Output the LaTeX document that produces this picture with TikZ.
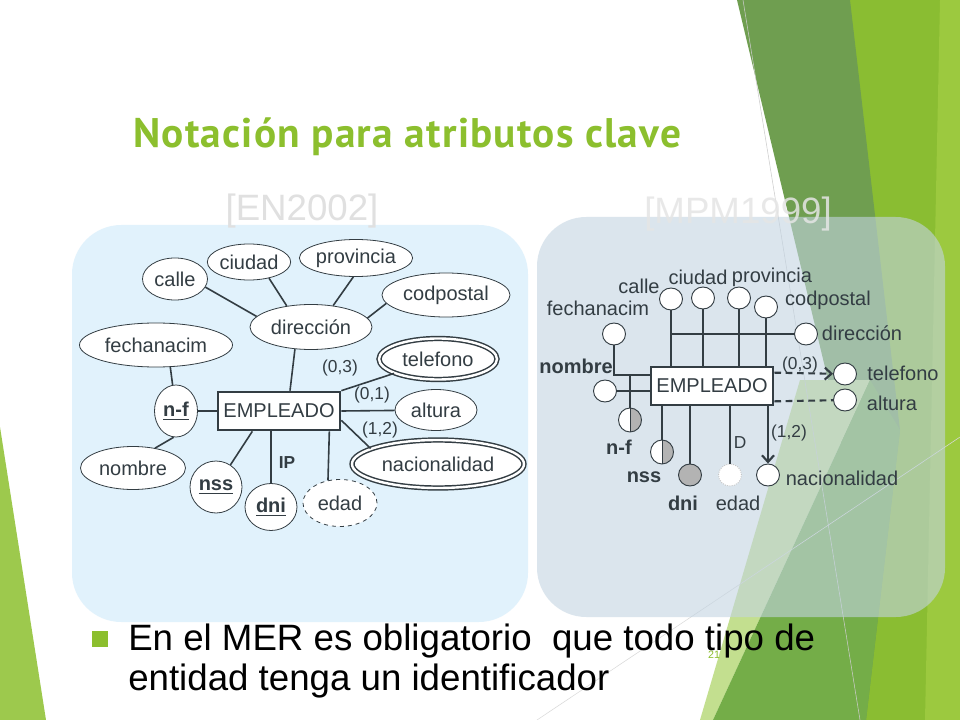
\documentclass[tikz,border=0pt]{standalone}
\usepackage{fontspec}
\setmainfont{Liberation Sans}
\newfontfamily\titlefont[LetterSpace=3]{PT Sans}
\usetikzlibrary{shapes,arrows.meta}

\definecolor{linec}{HTML}{333D43}
\definecolor{facet}{HTML}{8CBF2E}
\definecolor{leftpanel}{HTML}{E1F2FC}
\definecolor{rightpanel}{HTML}{C3D4E2}
\definecolor{keyfill}{HTML}{B3B3B3}
\definecolor{darkband}{HTML}{6F9E50}
\definecolor{brightband}{HTML}{8ABD32}
\definecolor{stripband}{HTML}{9CC93F}
\definecolor{midband}{HTML}{74AD48}
\definecolor{lightband}{HTML}{C3DF8F}

\begin{document}
\begin{tikzpicture}[x=0.75pt,y=-0.75pt,
    attr/.style={ellipse,draw=linec,fill=white,line width=0.6pt,inner sep=0pt,
                 font=\fontsize{15}{18}\selectfont,text=linec},
    sz/.style 2 args={minimum width={#1*0.75pt},minimum height={#2*0.75pt}},
    dbl/.style={double=white,double distance=1.8pt,line width=1.1pt},
    ent/.style={rectangle,draw=linec,fill=white,line width=2pt,inner sep=0pt,
                minimum width=91.5pt,minimum height=28.5pt,
                font=\fontsize{15}{18}\selectfont,text=linec},
    eline/.style={draw=linec,line width=1.2pt},
    rline/.style={draw=linec,line width=1.6pt},
    dot/.style={ellipse,draw=linec,fill=white,line width=0.7pt,inner sep=0pt,
                minimum width=17.25pt,minimum height=16.5pt},
    half/.style={dot,minimum height=18pt,
                 path picture={\fill[keyfill] (path picture bounding box.north)
                                 rectangle (path picture bounding box.south east);
                               \draw[linec,line width=0.7pt] (path picture bounding box.north)
                                 -- (path picture bounding box.south);}},
    lbl/.style={inner sep=0pt,font=\fontsize{15}{18}\selectfont,text=linec},
    blbl/.style={lbl,font=\fontsize{15}{18}\selectfont\bfseries},
    card/.style={inner sep=0pt,font=\fontsize{13}{15}\selectfont,text=linec},
    >={Straight Barb[length=5pt,width=9pt]}]

  \useasboundingbox (0,0) rectangle (960,720);

  % slide background
  \fill[white] (0,0) rectangle (960,720);
  \fill[facet!85!white] (0,427) -- (46,720) -- (0,720) -- cycle;
  \fill[brightband] (850,0) -- (960,0) -- (960,720) -- (860,720) -- cycle;
  \fill[stripband] (940,0) -- (960,0) -- (960,720) -- (925,720) -- cycle;
  \fill[darkband] (737,0) -- (850,0) -- (900,430) -- (866,720) -- (840,430) -- cycle;
  \fill[lightband] (700,720) -- (800,380) -- (870,380) -- (713,720) -- cycle;
  \fill[midband] (713,720) -- (870,380) -- (900,430) -- (866,720) -- cycle;
  \draw[gray!40,line width=0.4pt] (743,0) -- (860,720);
  \draw[gray!30,line width=0.4pt] (537,720) -- (960,437);

  % panels
  \fill[leftpanel,rounded corners=37pt] (72,225) rectangle (528,622);
  \fill[rightpanel,opacity=0.6,rounded corners=37pt] (537,217) rectangle (945,617);

  \node[anchor=base west,inner sep=0pt,text=facet,
        font=\titlefont\bfseries\fontsize{31}{36}\selectfont] (title) at (133,148)
        {Notación para atributos clave};
  \node[anchor=base,inner sep=0pt,text=black!12,
        font=\fontsize{27.5}{33}\selectfont] (en) at (302,221) {[EN2002]};
  \node[anchor=base,inner sep=0pt,text=black!10,opacity=0.85,
        font=\fontsize{27.5}{33}\selectfont] (mpm) at (738,224) {[MPM1999]};

  % [EN2002]
  \node[attr,sz={65}{42}]      (calle)  at (175,279) {calle};
  \node[attr,sz={82}{36}]      (ciudad) at (249,262) {ciudad};
  \node[attr,sz={112}{37}]     (prov)   at (356,258) {provincia};
  \node[attr,sz={128}{44}]     (codp)   at (446,295) {codpostal};
  \node[attr,sz={122}{45}]     (dir)    at (311,327) {dirección};
  \node[attr,sz={153}{44}]     (fech)   at (156,345) {fechanacim};
  \node[attr,dbl,sz={118}{41}] (tel)    at (438,359) {telefono};
  \node[attr,sz={82}{41}]      (alt)    at (436,410) {altura};
  \node[attr,dbl,sz={172}{48}] (nac)    at (438,464) {nacionalidad};
  \node[ent]                   (emp)    at (279,411) {EMPLEADO};
  \node[attr,sz={43}{52}]      (nf)     at (176,411) {\underline{\textbf{n-f}}};
  \node[attr,sz={105}{43}]     (nom)    at (133,468) {nombre};
  \node[attr,sz={52}{52}]      (nss)    at (216,487) {\underline{\textbf{nss}}};
  \node[attr,sz={52}{47}]      (dni)    at (271,507) {\underline{\textbf{dni}}};
  \node[attr,dashed,sz={74}{47}] (edad) at (340,503) {edad};

  \path[eline] (calle.-15)  edge (dir.169)
               (ciudad.-39) edge (dir.139)
               (prov.-98)   edge (dir.44)
               (codp.-172)  edge (dir.9)
               (dir.-126)   edge ([xshift=8.25pt]emp.north)
               (fech.-57)   edge (nf)
               (nf)         edge (emp)
               (nf.-95)     edge (nom.42)
               ([xshift=-20pt]emp.south) edge (nss)
               (emp.south -| dni) edge (dni)
               ([xshift=-9pt]emp.south east) edge (edad.118)
               (emp.north east) edge (tel)
               (emp.east)   edge (alt)
               ([yshift=-7pt]emp.east) edge (nac.167);

  \node[card,font=\fontsize{13}{15}\selectfont\bfseries] (ip) at (287,463) {IP};
  \node[card] (c03) at (340,368) {(0,3)};
  \node[card] (c01) at (372,395) {(0,1)};
  \node[card] (c12) at (380,430) {(1,2)};

  % [MPM1999]
  \node[ent] (remp) at (712,386) {EMPLEADO};
  \node[dot] (rcalle)  at (671,299) {};
  \node[dot] (rciudad) at (703,298) {};
  \node[dot] (rprov)   at (739,298) {};
  \node[dot] (rcodp)   at (766,307) {};
  \node[dot] (rfech)   at (614,334) {};
  \node[dot] (rdir)    at (806,334) {};
  \node[dot] (rnom)    at (605,391) {};
  \node[dot] (rtel)    at (845,374) {};
  \node[dot] (ralt)    at (845,400) {};
  \node[half] (rnf)    at (630,420) {};
  \node[half] (rnss)   at (662,452) {};
  \node[dot,fill=keyfill] (rdni) at (690,475) {};
  \node[dot,draw=gray!45,densely dotted] (redad) at (730,475) {};
  \node[dot] (rnac)    at (768,475) {};

  \coordinate (rfk) at ([yshift=-6.75pt]remp.north west);

  \draw[rline] (rcalle)  -- (rcalle |- remp.north);
  \draw[rline] (rciudad) -- (rciudad |- remp.north);
  \draw[rline] (rprov)   -- (rprov |- remp.north);
  \draw[rline] (rcodp)   -- (rcodp |- remp.north);
  \draw[rline] (rdir)    -- (rdir -| rcalle);
  \draw[rline] (rfech)   |- (rfk);
  \draw[rline] (rnf)     -- (rnf |- rfk);
  \draw[rline] (rnom)    -- (rnom -| remp.west);
  \draw[rline] (rnss)    -- (rnss |- remp.south);
  \draw[rline] (rdni)    -- (rdni |- remp.south);
  \draw[rline] (redad)   -- (redad |- remp.south);
  \draw[rline,->] (rnac |- remp.south) -- (rnac);
  \draw[rline,dashed,dash pattern=on 5pt off 3.5pt,->] ([yshift=-5.25pt]remp.north east) -- (rtel);
  \draw[rline,dashed,dash pattern=on 5pt off 3.5pt] ([yshift=3.75pt]remp.south east) -- (ralt);

  \node[lbl]  (tcalle)  at (639,286) {calle};
  \node[lbl]  (tciudad) at (698,277) {ciudad};
  \node[lbl]  (tprov)   at (772,277) {provincia};
  \node[lbl]  (tcodp)   at (828,300) {codpostal};
  \node[lbl]  (tfech)   at (598,308) {fechanacim};
  \node[lbl]  (tdir)    at (862,333) {dirección};
  \node[blbl] (tnom)    at (576,366) {nombre};
  \node[lbl]  (ttel)    at (903,373) {telefono};
  \node[lbl]  (talt)    at (892,403) {altura};
  \node[blbl] (tnf)     at (619,447) {n-f};
  \node[blbl] (tnss)    at (644,477) {nss};
  \node[blbl] (tdni)    at (683,503) {dni};
  \node[lbl]  (tedad)   at (738,503) {edad};
  \node[lbl]  (tnac)    at (842,478) {nacionalidad};
  \node[card] (td)      at (740,443) {D};
  \node[card] (r03)     at (800,365) {(0,3)};
  \node[card] (r12)     at (789,433) {(1,2)};

  % bullet text
  \fill[facet] (92,631) rectangle (108,647);
  \node[anchor=base west,inner sep=0pt,font=\fontsize{27.5}{33}\selectfont] (l1) at (128,650)
        {En el MER es obligatorio~ que todo tipo de};
  \node[anchor=base west,inner sep=0pt,font=\fontsize{27.5}{33}\selectfont] (l2) at (128,690)
        {entidad tenga un identificador};
  \node[inner sep=0pt,text=facet,font=\fontsize{8}{9}\selectfont] (pg) at (714,655) {21};
\end{tikzpicture}
\end{document}
